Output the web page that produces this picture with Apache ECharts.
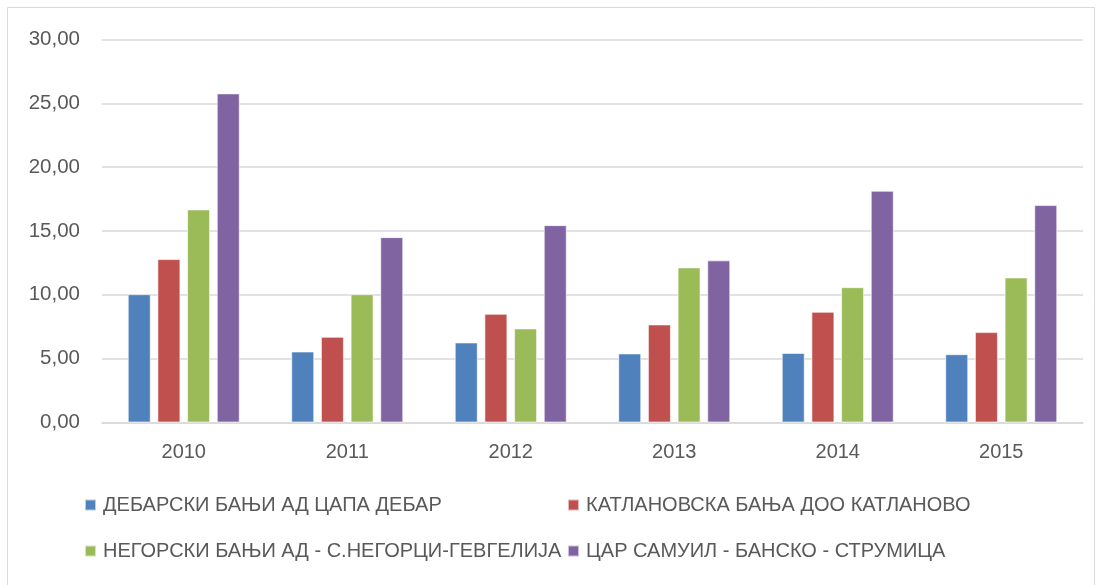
<!DOCTYPE html>
<html>
<head>
	<meta charset="utf-8">
	<title>Бањи</title>
	<script src="https://cdn.jsdelivr.net/npm/echarts@6/dist/echarts.min.js"></script>
	<style>
		html, body { margin: 0; padding: 0; background: #fff; }
	</style>
</head>
<body>
	<div id="main" style="width: 1102px;height:585px;"></div>

	<script type="text/javascript">
		// податоци од графиконот
		var years = ['2010', '2011', '2012', '2013', '2014', '2015'];
		var names = [
			'ДЕБАРСКИ БАЊИ АД ЦАПА ДЕБАР',
			'КАТЛАНОВСКА БАЊА ДОО КАТЛАНОВО',
			'НЕГОРСКИ БАЊИ АД - С.НЕГОРЦИ-ГЕВГЕЛИЈА',
			'ЦАР САМУИЛ - БАНСКО - СТРУМИЦА'
		];
		var debar = [10.05, 5.56, 6.27, 5.41, 5.45, 5.35];
		var katlanovo = [12.80, 6.71, 8.51, 7.68, 8.67, 7.08];
		var negorci = [16.69, 10.05, 7.37, 12.15, 10.60, 11.36];
		var samuil = [25.78, 14.52, 15.46, 12.70, 18.15, 17.03];

		var colors = ['#4f81bd', '#c0504d', '#9bbb59', '#8064a2'];
		var font = '"Liberation Sans", sans-serif';

		var myChart = echarts.init(document.getElementById('main'));

		// секоја ставка од легендата посебно, во две колони
		var legendPos = [[84, 495], [567, 495], [84, 541], [567, 541]];
		var legends = names.map(function (n, i) {
			return {
				data: [n],
				left: legendPos[i][0],
				top: legendPos[i][1],
				icon: 'rect',
				itemWidth: 11,
				itemHeight: 11,
				itemGap: 0,
				padding: 0,
				selectedMode: false,
				textStyle: { fontFamily: font, fontSize: 20, color: '#595959', padding: [0, 0, 0, 2] }
			};
		});

		var seriesData = [debar, katlanovo, negorci, samuil];

		var option = {
			animation: false,
			color: colors,
			textStyle: { fontFamily: font },
			graphic: [{
				type: 'rect',
				shape: { x: 7.5, y: 7.5, width: 1087, height: 590 },
				style: { fill: 'none', stroke: '#d9d9d9', lineWidth: 1 }
			}],
			legend: legends,
			grid: {
				left: 102,
				right: 19,
				top: 39.5,
				bottom: 162.5
			},
			xAxis: {
				type: 'category',
				data: years,
				axisTick: { show: false },
				axisLine: { lineStyle: { color: '#d9d9d9', width: 1.5 } },
				axisLabel: { color: '#595959', fontSize: 20, fontFamily: font, margin: 20 }
			},
			yAxis: {
				type: 'value',
				min: 0,
				max: 30,
				interval: 5,
				axisLine: { show: false },
				axisTick: { show: false },
				splitLine: { lineStyle: { color: '#d9d9d9', width: 1.5 } },
				axisLabel: {
					color: '#595959',
					fontSize: 20.5,
					fontFamily: font,
					margin: 22,
					formatter: function (v) { return v.toFixed(2).replace('.', ','); }
				}
			},
			series: seriesData.map(function (d, i) {
				return {
					name: names[i],
					type: 'bar',
					data: d,
					barWidth: 23,
					barGap: '29%',
					itemStyle: { borderColor: 'rgba(255,255,255,0.6)', borderWidth: 1 }
				};
			})
		};

		myChart.setOption(option);
	</script>
</body>
</html>
